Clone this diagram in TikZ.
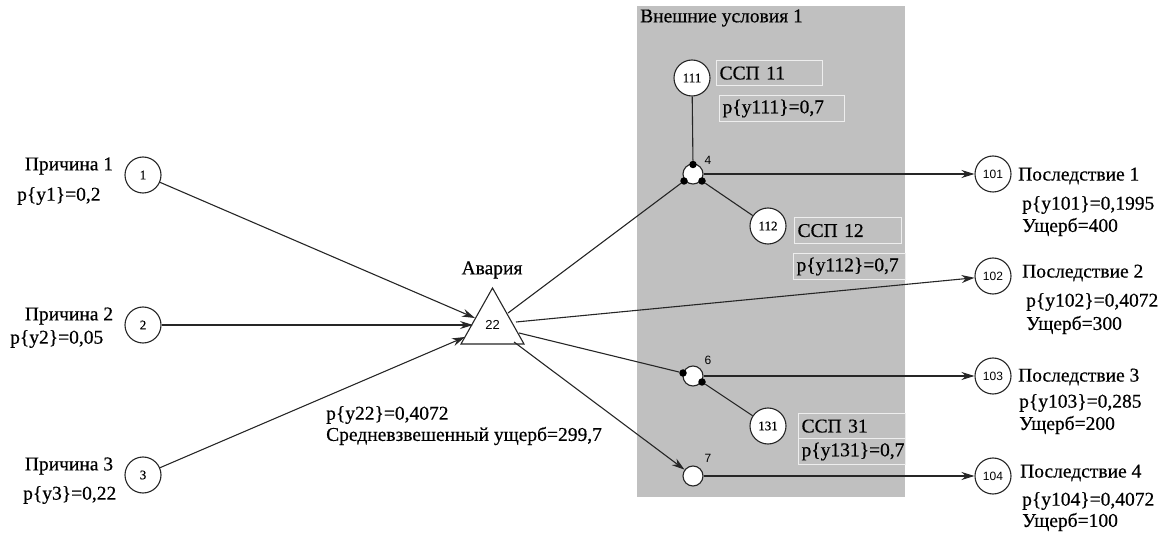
\documentclass[tikz,border=0pt]{standalone}
\usepackage{fontspec}
\setmainfont{Liberation Serif}[FakeBold=0.5]
\newfontfamily\numfont{Liberation Sans}
\usetikzlibrary{arrows.meta}
\definecolor{bg}{HTML}{C0C0C0}
\definecolor{boxline}{HTML}{EEEEEE}
\definecolor{ink}{HTML}{262626}
\begin{document}
\begin{tikzpicture}[x=1bp,y=-1bp,
  circ/.style={circle,draw=ink,line width=1.1bp,fill=white,minimum size=36bp,inner sep=0pt,font=\numfont\fontsize{12bp}{14bp}\selectfont},
  circs/.style={circ,font=\fontsize{13bp}{15bp}\selectfont},
  smallc/.style={circle,draw=ink,line width=1.1bp,fill=white,minimum size=20bp,inner sep=0pt},
  dotn/.style={circle,fill=black,minimum size=7.5bp,inner sep=0pt},
  txt/.style={font=\fontsize{19.5bp}{22bp}\selectfont,inner sep=0pt,text=black},
  lbl/.style={txt,anchor=west},
  numl/.style={font=\numfont\fontsize{12bp}{14bp}\selectfont,inner sep=0pt},
  boxn/.style={draw=boxline,line width=1.2bp,fill=bg,anchor=north west,inner ysep=0pt,align=left,txt,inner xsep=3bp},
  arr/.style={draw=ink,line width=1.1bp,-{Stealth[length=13bp,width=8bp]}},
  ln/.style={draw=ink,line width=1.1bp}]
\useasboundingbox (0,0) rectangle (1171,533);
\fill[bg] (637,6) rectangle (905,497);
\node[lbl] (title) at (640,18) {Внешние условия 1};

% left circles
\node[circs] (c1) at (143,175) {1};
\node[circs] (c2) at (143,325) {2};
\node[circs] (c3) at (143,475) {3};
\node[txt] (l1a) at (69,166) {Причина 1};
\node[lbl] (l1b) at (17,196) {p\{y1\}=0,2};
\node[txt] (l2a) at (69,316) {Причина 2};
\node[lbl] (l2b) at (10,339) {p\{y2\}=0,05};
\node[txt] (l3a) at (69,466) {Причина 3};
\node[lbl] (l3b) at (23,495) {p\{y3\}=0,22};

% triangle
\draw[ln,fill=white] (492.5,288) -- (524,344) -- (461,344) -- cycle;
\node[numl,font=\numfont\fontsize{13bp}{15bp}\selectfont] (t22) at (492.5,325) {22};
\node[txt] (avaria) at (492,270) {Авария};
\coordinate (tin1) at (475,318);
\coordinate (tin2) at (473,325);
\coordinate (tin3) at (465,337);
\coordinate (tout4) at (508,313);
\coordinate (tout102) at (516,322);
\coordinate (tout6) at (519,333);
\coordinate (tout7) at (514,342);
\node[lbl] (p22) at (326,415) {p\{y22\}=0,4072};
\node[lbl] (sr) at (326,436) {Средневзвешенный ущерб=299,7};

% inner circles
\node[circs] (c111) at (692,78) {111};
\node[circs] (c112) at (768,226) {112};
\node[circs] (c131) at (768,426) {131};
\node[boxn,minimum width=106bp,minimum height=25bp,text width=100bp] (b11) at (716,60) {ССП 11};
\node[boxn,minimum width=125bp,minimum height=26bp,text width=119bp] (b111) at (719,95) {p\{y111\}=0,7};
\node[boxn,minimum width=107bp,minimum height=26bp,text width=101bp] (b12) at (794,217) {ССП 12};
\node[boxn,minimum width=112bp,minimum height=26bp,text width=106bp] (b112) at (793,253) {p\{y112\}=0,7};
\node[boxn,minimum width=107bp,minimum height=25bp,text width=101bp] (b31) at (798,413) {ССП 31};
\node[boxn,minimum width=107bp,minimum height=26bp,text width=101bp] (b131) at (798,438) {p\{y131\}=0,7};

% junctions
\node[smallc] (n4) at (693,174) {};
\node[dotn] (d4t) at (693,164.5) {};
\node[dotn] (d4l) at (684,181) {};
\node[dotn] (d4r) at (702,181) {};
\node[numl] (l4) at (708,160) {4};
\node[smallc] (n6) at (693,376) {};
\node[dotn] (d6l) at (683,373) {};
\node[dotn] (d6r) at (702,382) {};
\node[numl] (l6) at (708,360) {6};
\node[smallc] (n7) at (693,476) {};
\node[numl] (l7) at (708,458) {7};

% right circles
\node[circ] (c101) at (993,174) {101};
\node[circ] (c102) at (993,276) {102};
\node[circ] (c103) at (993,376) {103};
\node[circ] (c104) at (993,476) {104};
\node[lbl] (r1a) at (1018,176) {Последствие 1};
\node[lbl] (r1b) at (1022,205) {p\{y101\}=0,1995};
\node[lbl] (r1c) at (1022,227) {Ущерб=400};
\node[lbl] (r2a) at (1022,273) {Последствие 2};
\node[lbl] (r2b) at (1026,302) {p\{y102\}=0,4072};
\node[lbl] (r2c) at (1026,325) {Ущерб=300};
\node[lbl] (r3a) at (1018,377) {Последствие 3};
\node[lbl] (r3b) at (1019,403) {p\{y103\}=0,285};
\node[lbl] (r3c) at (1019,425) {Ущерб=200};
\node[lbl] (r4a) at (1020,473) {Последствие 4};
\node[lbl] (r4b) at (1022,501) {p\{y104\}=0,4072};
\node[lbl] (r4c) at (1022,522) {Ущерб=100};

% connectors
\draw[arr] (c1) -- (tin1);
\draw[arr] (c2) -- (tin2);
\draw[arr] (c3) -- (tin3);
\draw[ln] (tout4) -- (d4l);
\draw[arr] (tout102) -- (c102);
\draw[ln] (tout6) -- (d6l);
\draw[arr] (tout7) -- (n7);
\draw[ln] (c111) -- (d4t);
\draw[ln] (d4r) -- (c112);
\draw[ln] (d6r) -- (c131);
\draw[arr] (n4.east) -- (c101);
\draw[arr] (n6.east) -- (c103);
\draw[arr] (n7.east) -- (c104);
\end{tikzpicture}
\end{document}
